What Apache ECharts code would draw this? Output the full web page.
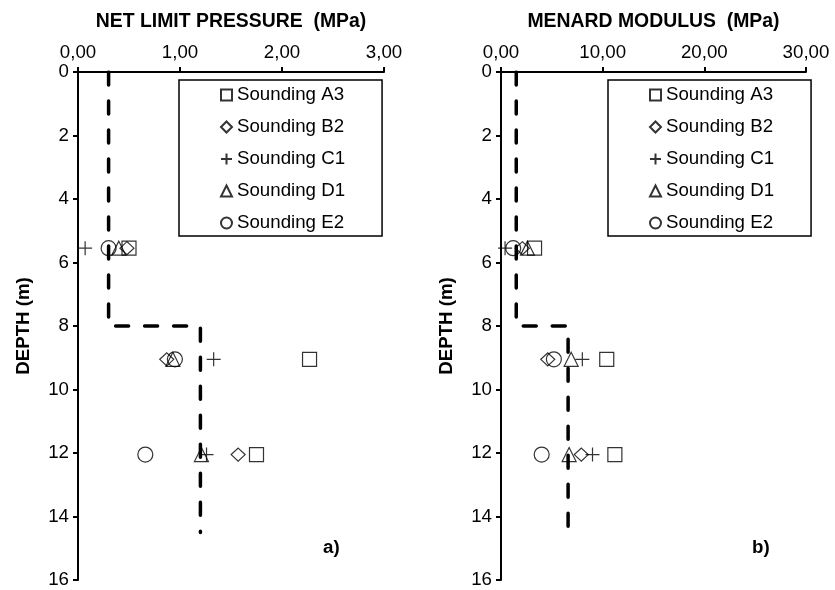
<!DOCTYPE html>
<html>
<head>
<meta charset="utf-8">
<script src="https://cdn.jsdelivr.net/npm/echarts@6/dist/echarts.min.js"></script>
<style>
  html, body { margin: 0; padding: 0; background: #fff; }
  #chart { width: 835px; height: 590px; }
</style>
</head>
<body>
<div id="chart"></div>
<script>
// depths of the pressuremeter tests (m)
var depths = [5.55, 9.05, 12.05];
var soundings = ['Sounding A3', 'Sounding B2', 'Sounding C1', 'Sounding D1', 'Sounding E2'];

// net limit pressure (MPa), one array per sounding
var pA3 = [0.50, 2.27, 1.75];
var pB2 = [0.48, 0.87, 1.57];
var pC1 = [0.07, 1.33, 1.26];
var pD1 = [0.40, 0.93, 1.21];
var pE2 = [0.30, 0.95, 0.66];

// menard modulus (MPa)
var eA3 = [3.3, 10.4, 11.2];
var eB2 = [2.1, 4.6, 7.9];
var eC1 = [0.4, 8.0, 9.0];
var eD1 = [2.6, 6.9, 6.7];
var eE2 = [1.2, 5.2, 4.0];

// design profiles (dashed)
var designPx = [0.3, 0.3, 1.2, 1.2];
var designPy = [0, 8, 8, 14.5];
var designEx = [1.5, 1.5, 6.6, 6.6];
var designEy = [0, 8, 8, 14.8];

var FONT = 'Liberation Sans';
var symbols = ['rect', 'diamond', 'path://M0,5L10,5M5,0L5,10', 'triangle', 'circle'];
var sizes = [14, [14, 13], 14, 14, 15];

function pairs(xs, ys) {
    var out = [];
    for (var i = 0; i < xs.length; i++) out.push([xs[i], ys[i]]);
    return out;
}

function fmt(v) { return v.toFixed(2).replace('.', ','); }

var chart = echarts.init(document.getElementById('chart'));
var series = [];

series.push({
    type: 'line', xAxisIndex: 0, yAxisIndex: 0, name: 'designA',
    data: pairs(designPx, designPy), symbol: 'none', silent: true,
    lineStyle: { color: '#000', width: 3.5, type: [13, 16], cap: 'round' }
});
series.push({
    type: 'line', xAxisIndex: 1, yAxisIndex: 1, name: 'designB',
    data: pairs(designEx, designEy), symbol: 'none', silent: true,
    lineStyle: { color: '#000', width: 3.5, type: [13, 16], cap: 'round' }
});

var pVals = [pA3, pB2, pC1, pD1, pE2];
var eVals = [eA3, eB2, eC1, eD1, eE2];
for (var k = 0; k < soundings.length; k++) {
    [pVals, eVals].forEach(function (vals, panel) {
        series.push({
            type: 'scatter', name: soundings[k],
            xAxisIndex: panel, yAxisIndex: panel,
            symbol: symbols[k], symbolSize: sizes[k],
            data: pairs(vals[k], depths),
            itemStyle: { color: 'rgba(0,0,0,0)', borderColor: '#000', borderWidth: 1.2 }
        });
    });
}

function legendAt(left) {
    return {
        orient: 'vertical', left: left, top: 80, data: soundings,
        selectedMode: false,
        itemWidth: 11, itemHeight: 11, itemGap: 12,
        padding: [5, 37, 3, 41],
        borderColor: '#000', borderWidth: 1.5,
        textStyle: { fontFamily: FONT, fontSize: 18.7, color: '#000', lineHeight: 20 }
    };
}

function xAxisOf(idx, max, interval, name) {
    return {
        gridIndex: idx, type: 'value', position: 'top',
        min: 0, max: max, interval: interval,
        name: name, nameLocation: 'middle', nameGap: 41,
        nameTextStyle: { fontFamily: FONT, fontSize: 19.4, fontWeight: 'bold', color: '#000' },
        axisLine: { onZero: false, lineStyle: { color: '#000', width: 2 } },
        axisTick: { show: true, inside: false, length: 5, lineStyle: { color: '#000', width: 2 } },
        axisLabel: { formatter: fmt, margin: 10, fontFamily: FONT, fontSize: 18.7, color: '#000' },
        splitLine: { show: false }
    };
}

function yAxisOf(idx) {
    return {
        gridIndex: idx, type: 'value', inverse: true,
        min: 0, max: 16, interval: 2,
        name: 'DEPTH (m)', nameLocation: 'middle', nameGap: 45, nameRotate: 90,
        nameTextStyle: { fontFamily: FONT, fontSize: 18.7, fontWeight: 'bold', color: '#000' },
        axisLine: { onZero: false, lineStyle: { color: '#000', width: 2 } },
        axisTick: { show: true, inside: false, length: 5, lineStyle: { color: '#000', width: 2 } },
        axisLabel: { margin: 9, fontFamily: FONT, fontSize: 18.7, color: '#000' },
        splitLine: { show: false }
    };
}

var option = {
    backgroundColor: '#fff',
    animation: false,
    grid: [
        { left: 78, top: 72, width: 306, height: 508 },
        { left: 501, top: 72, width: 305, height: 508 }
    ],
    legend: [legendAt(179), legendAt(608)],
    xAxis: [
        xAxisOf(0, 3, 1, 'NET LIMIT PRESSURE  (MPa)'),
        xAxisOf(1, 30, 10, 'MENARD MODULUS  (MPa)')
    ],
    yAxis: [yAxisOf(0), yAxisOf(1)],
    graphic: [
        { type: 'text', left: 323, top: 538, style: { text: 'a)', font: 'bold 18.7px "Liberation Sans"', fill: '#000' } },
        { type: 'text', left: 752, top: 538, style: { text: 'b)', font: 'bold 18.7px "Liberation Sans"', fill: '#000' } }
    ],
    series: series
};
chart.setOption(option);
</script>
</body>
</html>
